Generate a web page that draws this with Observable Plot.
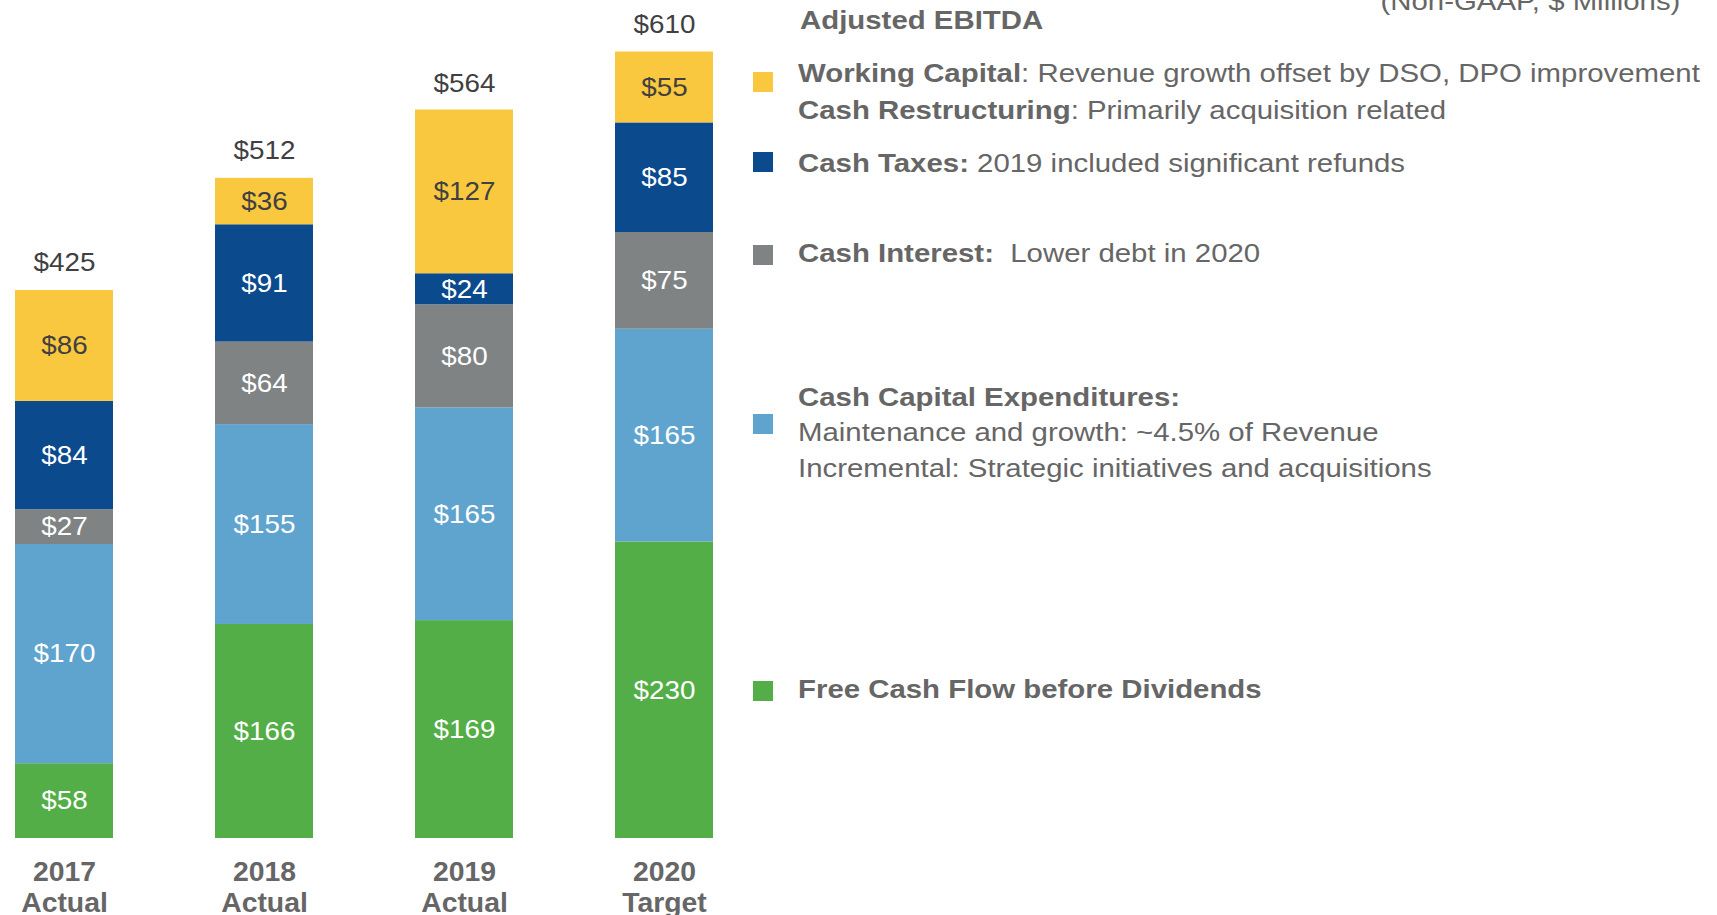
<!DOCTYPE html>
<html>
<head>
<meta charset="utf-8">
<script src="https://cdn.jsdelivr.net/npm/d3@7"></script>
<script src="https://cdn.jsdelivr.net/npm/@observablehq/plot@0.6"></script>
<style>
  html, body { margin: 0; padding: 0; background: #fff; width: 1717px; height: 915px; overflow: hidden;
    font-family: "Liberation Sans", Arial, sans-serif; }
  #chart { position: absolute; left: 0; top: 0; }
  .lg { position: absolute; color: #666666; font-size: 26px; line-height: 26px; white-space: nowrap;
    transform: scaleX(1.13); transform-origin: left center; }
  .lg.right { transform-origin: right center; }
  .lg b { font-weight: bold; }
  .sw { position: absolute; width: 20px; height: 20px; }
</style>
</head>
<body>
<div id="chart"></div>
<div id="legend"></div>
<script>
// ---- data ----
const years = ["2017", "2018", "2019", "2020"];
const periods = ["Actual", "Actual", "Actual", "Target"];
const freeCashFlow = [58, 166, 169, 230];
const capex = [170, 155, 165, 165];
const cashInterest = [27, 64, 80, 75];
const cashTaxes = [84, 91, 24, 85];
const workingCapital = [86, 36, 127, 55];
const totals = [425, 512, 564, 610];
const seriesNames = ["Free Cash Flow before Dividends", "Cash Capital Expenditures", "Cash Interest", "Cash Taxes", "Working Capital / Cash Restructuring"];
const seriesColors = ["#53AE47", "#5FA4CF", "#808384", "#0B4A8D", "#F9C83F"];

// ---- tables ----
const seriesValues = [freeCashFlow, capex, cashInterest, cashTaxes, workingCapital];
const rows = [];
years.forEach((yr, i) => seriesValues.forEach((arr, k) => rows.push({year: yr, series: seriesNames[k], value: arr[i], k})));
const totalRows = years.map((yr, i) => ({year: yr, total: totals[i]}));

const chart = Plot.plot({
  width: 740,
  height: 915,
  marginTop: 51.5,
  marginBottom: 77,
  marginLeft: 0,
  marginRight: 0,
  style: {fontFamily: "'Liberation Sans', Arial, sans-serif", background: "transparent"},
  x: {domain: years, range: [14.2, 714], paddingInner: 0.508, paddingOuter: 0, axis: null},
  y: {domain: [0, 610], axis: null},
  color: {domain: seriesNames, range: seriesColors},
  marks: [
    Plot.barY(rows, {x: "year", y: "value", fill: "series"}),
    Plot.text(rows, Plot.stackY({x: "year", y: "value", text: d => d.k === 4 ? "" : "$" + d.value, fill: "white", fontSize: 26})),
    Plot.text(rows, Plot.stackY({x: "year", y: "value", text: d => d.k === 4 ? "$" + d.value : "", fill: "#404040", fontSize: 26})),
    Plot.text(totalRows, {x: "year", y: "total", text: d => "$" + d.total, dy: -27.5, fill: "#404040", fontSize: 26}),
    Plot.axisX({
      tickSize: 0, tickPadding: 19.5, fontSize: 27, fontWeight: "bold", fill: "#666666", lineHeight: 1.18,
      label: null, tickFormat: d => d + "\n" + periods[years.indexOf(d)]
    })
  ]
});
document.getElementById("chart").append(chart);

// widen glyphs slightly (reference text is horizontally stretched)
function stretch(el, s) {
  const t = el.getAttribute("transform");
  if (t) el.setAttribute("transform", t + ` scale(${s},1)`);
  else {
    const x = +el.getAttribute("x") || 0, y = +el.getAttribute("y") || 0;
    el.setAttribute("transform", `translate(${x},${y}) scale(${s},1) translate(${-x},${-y})`);
  }
}
chart.querySelectorAll("g[aria-label='text'] text").forEach(el => stretch(el, 1.07));
chart.querySelectorAll("g[aria-label='x-axis tick label'] text").forEach(el => stretch(el, 1.05));

// ---- legend (HTML, right side) ----
const legend = document.getElementById("legend");
function line(html, cy, left, extra, cls) {
  const el = document.createElement("div");
  el.className = "lg" + (cls ? " " + cls : "");
  el.innerHTML = html;
  el.style.top = (cy - 13) + "px";
  if (left != null) el.style.left = left + "px";
  if (extra) Object.assign(el.style, extra);
  legend.append(el);
}
function swatch(color, cy) {
  const el = document.createElement("div");
  el.className = "sw";
  el.style.background = color;
  el.style.left = "753px";
  el.style.top = (cy - 10) + "px";
  legend.append(el);
}
line("<b>Adjusted EBITDA</b>", 19.7, 800);
line("(Non-GAAP, $ Millions)", 1, null, {right: "37px"}, "right");

swatch(seriesColors[4], 82);
line("<b>Working Capital</b>: Revenue growth offset by DSO, DPO improvement", 73.4, 798);
line("<b>Cash Restructuring</b>: Primarily acquisition related", 109.5, 798);

swatch(seriesColors[3], 162);
line("<b>Cash Taxes:</b> 2019 included significant refunds", 163, 798);

swatch(seriesColors[2], 255);
line("<b>Cash Interest:</b>&nbsp; Lower debt in 2020", 253, 798);

swatch(seriesColors[1], 424);
line("<b>Cash Capital Expenditures:</b>", 397, 798);
line("Maintenance and growth: ~4.5% of Revenue", 432, 798);
line("Incremental: Strategic initiatives and acquisitions", 467.5, 798);

swatch(seriesColors[0], 691);
line("<b>Free Cash Flow before Dividends</b>", 689, 798);
</script>
</body>
</html>
